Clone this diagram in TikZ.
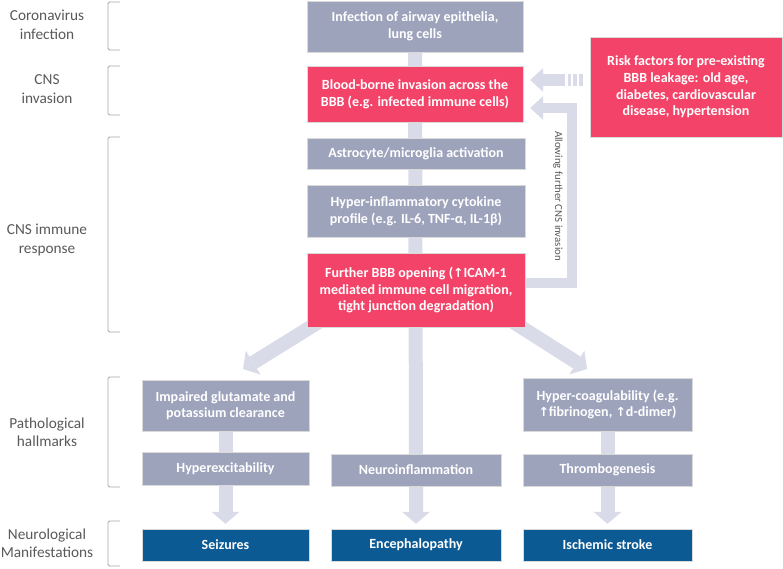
\documentclass[tikz,border=0pt]{standalone}
\usepackage{fontspec}
\setmainfont{Carlito}
\newfontfamily\sym{DejaVu Sans}
\usetikzlibrary{arrows.meta,backgrounds}
\definecolor{boxgray}{RGB}{158,163,188}
\definecolor{boxpink}{RGB}{244,67,104}
\definecolor{boxblue}{RGB}{12,90,148}
\definecolor{conn}{RGB}{218,219,232}
\definecolor{lblgray}{RGB}{89,89,89}
\definecolor{brgray}{RGB}{166,166,166}
\newcommand{\upar}{{\sym\bfseries\fontsize{12.5}{16}\selectfont ↑}}
\tikzset{
  box/.style={rectangle, inner sep=0pt, text=white, align=center,
    font=\fontsize{14}{16.6}\selectfont\bfseries, draw=white!85!black, line width=0.4pt},
  gbox/.style={box, fill=boxgray},
  pbox/.style={box, fill=boxpink},
  bbox/.style={box, fill=boxblue},
  lbl/.style={text=lblgray, align=center, font=\fontsize{15.3}{18.5}\selectfont},
  bracket/.style={draw=brgray, line width=0.9pt, rounded corners=1.5pt},
  thick arrow/.style={draw=conn, line width=14pt,
    -{Triangle[width=28pt,length=12pt,line width=0pt]}},
  thin arrow/.style={draw=conn, line width=10pt,
    -{Triangle[width=24pt,length=13pt,line width=0pt]}}
}
\begin{document}
\begin{tikzpicture}[x=1pt,y=-1pt]
\path[use as bounding box] (0,0) rectangle (783,568);

% boxes
\node[gbox, minimum width=216pt, minimum height=51pt] (inf) at (415,26.5) {Infection of airway epithelia,\\lung cells};
\node[pbox, minimum width=216pt, minimum height=56pt] (bbb) at (415,94) {Blood-borne invasion across the\\BBB (e.g. infected immune cells)};
\node[gbox, minimum width=218pt, minimum height=31pt] (astro) at (416,153.5) {Astrocyte/microglia activation};
\node[gbox, minimum width=218pt, minimum height=52pt] (hyper) at (416,211) {Hyper-inflammatory cytokine\\profile (e.g. IL-6, TNF-α, IL-1β)};
\node[pbox, minimum width=218pt, minimum height=74pt] (further) at (416,290) {Further BBB opening (\upar ICAM-1\\mediated immune cell migration,\\tight junction degradation)};
\node[pbox, minimum width=192pt, minimum height=100pt] (risk) at (686,87) {Risk factors for pre-existing\\BBB leakage: old age,\\diabetes, cardiovascular\\disease, hypertension};

\node[gbox, minimum width=167pt, minimum height=51pt] (impaired) at (225.5,405.5) {Impaired glutamate and\\potassium clearance};
\node[gbox, minimum width=167pt, minimum height=33pt] (hyperex) at (225.5,468.5) {Hyperexcitability};
\node[bbox, minimum width=167pt, minimum height=32pt] (seiz) at (225.5,545) {Seizures};

\node[gbox, minimum width=170pt, minimum height=32pt] (neuro) at (416,470) {Neuroinflammation};
\node[bbox, minimum width=170pt, minimum height=32pt] (enceph) at (416,545) {Encephalopathy};

\node[gbox, minimum width=169pt, minimum height=53pt] (coag) at (607.5,404.5) {Hyper-coagulability (e.g.\\\upar fibrinogen, \upar d-dimer)};
\node[gbox, minimum width=169pt, minimum height=32pt] (thromb) at (607.5,470) {Thrombogenesis};
\node[bbox, minimum width=169pt, minimum height=32pt] (isch) at (607.5,545) {Ischemic stroke};

% side labels
\node[lbl] (l1) at (47,25) {Coronavirus\\infection};
\node[lbl] (l2) at (47,89) {CNS\\invasion};
\node[lbl] (l3) at (47,240) {CNS immune\\response};
\node[lbl] (l4) at (47,432) {Pathological\\hallmarks};
\node[lbl] (l5) at (47,543) {Neurological\\Manifestations};

% brackets
\draw[bracket] (120,2) -- (108,2) -- (108,50) -- (120,50);
\draw[bracket] (120,66) -- (108,66) -- (108,115) -- (120,115);
\draw[bracket] (120,137) -- (108,137) -- (108,332) -- (120,332);
\draw[bracket] (120,377) -- (108,377) -- (108,487) -- (120,487);
\draw[bracket] (120,521) -- (108,521) -- (108,566) -- (120,566);

% rotated label
\node[text=lblgray, font=\fontsize{10.8}{12}\selectfont, rotate=-90] (allow) at (558,196) {Allowing further CNS invasion};

% connectors
\coordinate (dls) at (322,320);
\coordinate (dlt) at (243,369);
\coordinate (drs) at (510,320);
\coordinate (drt) at (587,369);
\coordinate (dash) at (583,80);
\begin{scope}[on background layer]
  \draw[thick arrow, shorten >=5pt] (inf.south) -- (neuro.center) -- (enceph.north);
  \draw[thick arrow] (dls) -- (dlt);
  \draw[thick arrow] (drs) -- (drt);
  \draw[thick arrow, shorten >=5pt] (impaired.south) -- (hyperex.center) -- (seiz.north);
  \draw[thick arrow, shorten >=5pt] (coag.south) -- (thromb.center) -- (isch.north);
  \draw[thin arrow, shorten >=7pt] ([yshift=7pt]further.east) -- ++(46.5,0) |- ([yshift=-14pt]bbb.east);
  \draw[draw=conn, line width=12pt, shorten >=7pt,
    dash pattern=on 4pt off 2pt on 4pt off 2pt on 3.5pt off 3pt on 60pt,
    -{Triangle[width=24pt,length=13pt,line width=0pt]}]
    (dash) -- (dash -| bbb.east);
\end{scope}
\end{tikzpicture}
\end{document}
